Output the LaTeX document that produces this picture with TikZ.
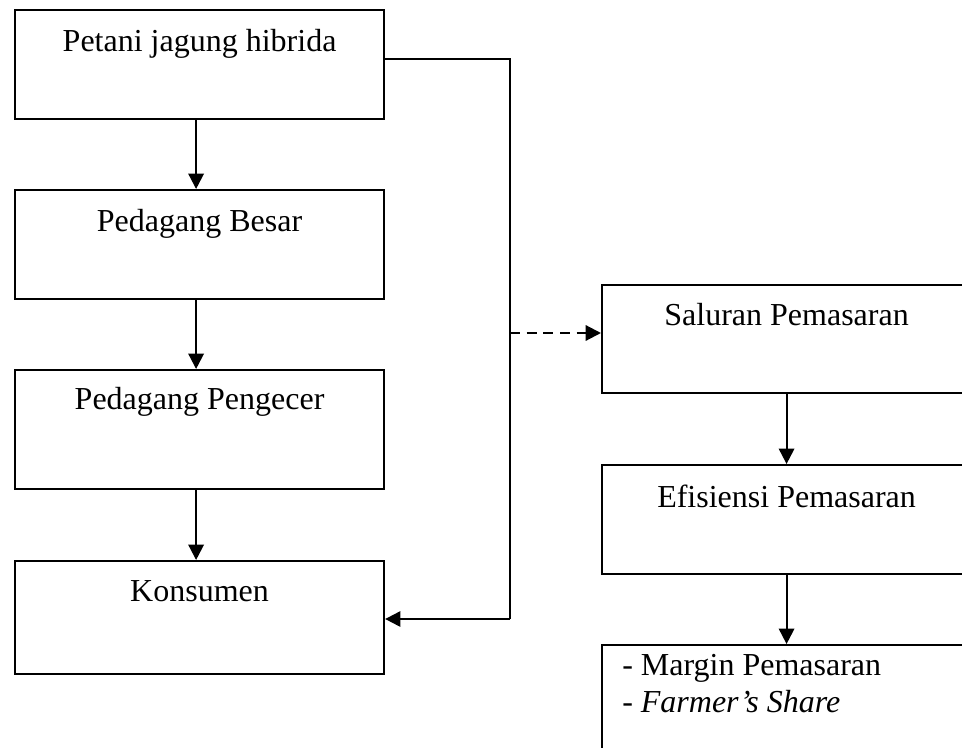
\documentclass[tikz,border=0pt]{standalone}
\usepackage{fontspec}
\setmainfont{Liberation Serif}
\usetikzlibrary{arrows.meta}
\begin{document}
\begin{tikzpicture}[x=0.75pt,y=-0.75pt,
  box/.style={draw,line width=1.6pt,inner sep=0pt,anchor=north west,
    minimum width=276.75pt,text height=30.75pt,font=\fontsize{24}{27.75}\selectfont},
  arr/.style={line width=1.6pt,-{Triangle[length=11.5pt,width=11.5pt]}},
  link/.style={line width=1.6pt}]
\useasboundingbox (0,0) rectangle (962,748);
\clip (0,0) rectangle (962,748);
\fill[white] (0,0) rectangle (962,748);
% left column
\node[box,text depth=51pt] (p1) at (14,9) {Petani jagung hibrida};
\node[box,text depth=51pt] (pb) at (14,189) {Pedagang Besar};
\node[box,text depth=60pt,text height=29.25pt] (pp) at (14,369) {Pedagang Pengecer};
\node[box,text depth=54.75pt,text height=30pt] (ko) at (14,560) {Konsumen};
% right column
\node[box,text depth=51pt,text height=30pt] (sp) at (601,284) {Saluran Pemasaran};
\node[box,text depth=50.25pt,text height=31.5pt] (ep) at (601,464) {Efisiensi Pemasaran};
\node[draw,line width=1.6pt,inner sep=0pt,anchor=north west,minimum width=276.75pt,minimum height=90pt] (mb) at (601,644) {};
\node[inner sep=0pt,anchor=north west,align=left,font=\fontsize{24}{27.75}\selectfont] (mt) at (622,654) {- Margin Pemasaran\\- \textit{Farmer’s Share}};
% arrows
\draw[arr] ([xshift=-2.6pt]p1.south) -- ([xshift=-2.6pt]pb.north);
\draw[arr] ([xshift=-2.6pt]pb.south) -- ([xshift=-2.6pt]pp.north);
\draw[arr] ([xshift=-2.6pt]pp.south) -- ([xshift=-2.6pt]ko.north);
\draw[arr] (sp.south) -- (ep.north);
\draw[arr] (ep.south) -- (mb.north);
% side connector
\coordinate (j1) at (510,59);
\coordinate (j2) at (510,619);
\coordinate (j3) at (510,333);
\draw[link] (p1.east |- j1) -- (j1) -- (j2);
\draw[arr] (j2) -- (ko.east |- j2);
\draw[arr,dash pattern=on 7.5pt off 5pt] (j3) -- (sp.west |- j3);
\end{tikzpicture}
\end{document}
